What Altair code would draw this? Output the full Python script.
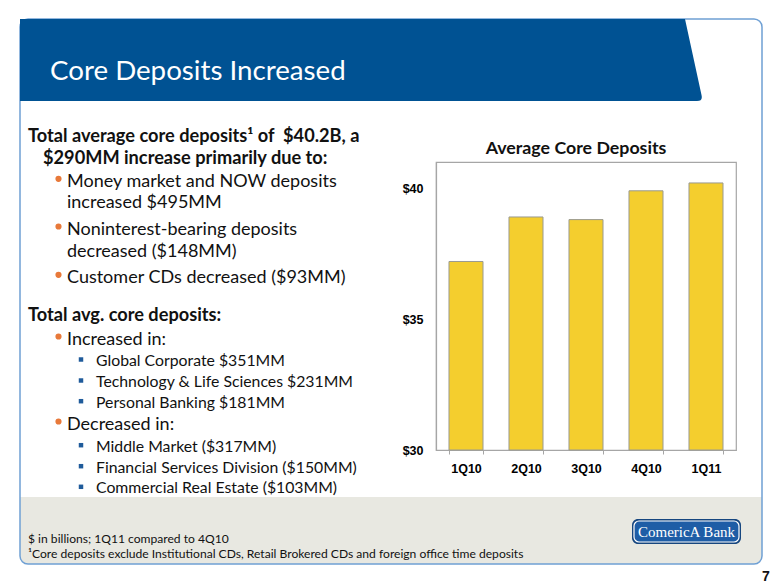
import altair as alt
import pandas as pd

# ---------------- data ----------------
quarters = ["1Q10", "2Q10", "3Q10", "4Q10", "1Q11"]
deposits = [37.2, 38.9, 38.8, 39.9, 40.2]
y_ticks = [30, 35, 40]

slide_title = "Core Deposits Increased"
chart_title = "Average Core Deposits"
intro_lines = ["Total average core deposits\u00b9 of\u00a0 $40.2B, a",
               "$290MM increase primarily due to:"]
driver_lines = ["Money market and NOW deposits", "increased $495MM",
                "Noninterest-bearing deposits", "decreased ($148MM)",
                "Customer CDs decreased ($93MM)"]
section2 = "Total avg. core deposits:"
inc_head = "Increased in:"
inc_lines = ["Global Corporate $351MM", "Technology & Life Sciences $231MM",
             "Personal Banking $181MM"]
dec_head = "Decreased in:"
dec_lines = ["Middle Market ($317MM)", "Financial Services Division ($150MM)",
             "Commercial Real Estate ($103MM)"]
footnotes = ["$ in billions; 1Q11 compared to 4Q10",
             "\u00b9Core deposits exclude Institutional CDs, Retail Brokered CDs and foreign office time deposits"]
logo_text = "ComericA Bank"
page_no = "7"

# ---------------- layout ----------------
OX, OY = 436, 162          # plot-area origin on the page
W, H = 300, 288
BLUE = "#005293"
ORANGE = "#E8793A"
SQ = "#1F5B9B"
TXT = "#111111"
FONT = "Lato"
AXFONT = "Liberation Sans"

one = alt.Data(values=[{"k": 0}])


def txt(s, X, Y, size, bold=False, color=TXT, font=FONT, align="left"):
    return alt.Chart(one).mark_text(
        text=s, align=align, baseline="alphabetic", fontSize=size,
        fontWeight="bold" if bold else "normal", color=color, font=font
    ).encode(x=alt.value(X - OX), y=alt.value(Y - OY))


def rect(X1, Y1, X2, Y2, **kw):
    return alt.Chart(one).mark_rect(**kw).encode(
        x=alt.value(X1 - OX), x2=alt.value(X2 - OX),
        y=alt.value(Y1 - OY), y2=alt.value(Y2 - OY))


def dot(X, Y, shape, size, color):
    return alt.Chart(one).mark_point(shape=shape, size=size, filled=True,
                                     opacity=1, color=color, strokeWidth=0).encode(
        x=alt.value(X - OX), y=alt.value(Y - OY))


layers = []
# footer band
layers.append(rect(20, 497, 762, 564, fill="#E8E8E1",
                   cornerRadiusBottomLeft=8, cornerRadiusBottomRight=8))
# outer frame
layers.append(rect(20, 19, 762, 564, fill="transparent", stroke="#6FA0D4",
                   strokeWidth=1.5, cornerRadius=8))
# title banner (custom path, size=4 -> 1 unit == 1 px)
banner_path = "M0,0 L665,0 L681.5,76 Q683,82 677,82 L0,82 Z"
layers.append(alt.Chart(one).mark_point(shape=banner_path, size=4, filled=True,
                                        opacity=1, color=BLUE, strokeWidth=0).encode(
    x=alt.value(20 - OX), y=alt.value(19 - OY)))
layers.append(txt(slide_title, 50, 80, 27.7, color="white"))

# left text block
HEAD = 18.2
BODY = 18
SUB = 15.8
layers.append(txt(intro_lines[0], 28, 142, HEAD, bold=True))
layers.append(txt(intro_lines[1], 43, 163.5, HEAD, bold=True))
drv_y = [187.3, 208.3, 235, 256.7, 283.3]
drv_bullet = [True, False, True, False, True]
for s, yy, b in zip(driver_lines, drv_y, drv_bullet):
    layers.append(txt(s, 67, yy, BODY))
    if b:
        layers.append(dot(58.5, yy - 8.5, "circle", 38, ORANGE))
layers.append(txt(section2, 28, 321, HEAD, bold=True))
layers.append(txt(inc_head, 67, 345, BODY))
layers.append(dot(58.5, 345 - 8.5, "circle", 38, ORANGE))
for s, yy in zip(inc_lines, [366, 387, 407.7]):
    layers.append(txt(s, 96, yy, SUB))
    layers.append(dot(81, yy - 6.5, "square", 20, SQ))
layers.append(txt(dec_head, 67, 430, BODY))
layers.append(dot(58.5, 430 - 8.5, "circle", 38, ORANGE))
for s, yy in zip(dec_lines, [451.7, 472.7, 493.3]):
    layers.append(txt(s, 96, yy, SUB))
    layers.append(dot(81, yy - 6.5, "square", 20, SQ))

# footer text
layers.append(txt(footnotes[0], 28, 543, 12.1))
layers.append(txt(footnotes[1], 28, 558, 12.1))

# logo
layers.append(rect(632, 519, 741, 544, fill="#16467F", cornerRadius=6))
layers.append(rect(634, 521, 739, 542, fill="#1E5DA6", stroke="white",
                   strokeWidth=1.2, cornerRadius=5))
layers.append(txt(logo_text, 686.5, 536.5, 15, color="white",
                  font="Liberation Serif", align="center"))

# page number
layers.append(txt(page_no, 766, 581, 14, bold=True, font=AXFONT,
                  align="center"))

# chart title
layers.append(txt(chart_title, 576, 154, 17.8, bold=True, align="center"))

# ---------------- bars ----------------
df = pd.DataFrame({"quarter": quarters, "value": deposits})
bars = alt.Chart(df).mark_bar(color="#F4CE2E", stroke="#9A9A90",
                              strokeWidth=1).encode(
    x=alt.X("quarter:N", sort=quarters, title=None,
            scale=alt.Scale(paddingInner=0.433, paddingOuter=0.2165),
            axis=alt.Axis(labelAngle=0, tickBand="extent", tickSize=4,
                          labelPadding=8, labelFont=AXFONT,
                          labelFontWeight="bold", labelFontSize=12.5,
                          labelColor="#000000")),
    y=alt.Y("value:Q", title=None,
            scale=alt.Scale(domain=[30, 41], nice=False, zero=False),
            axis=alt.Axis(values=y_ticks, ticks=False, labelPadding=13,
                          labelExpr="'$' + datum.value", grid=False,
                          labelFont=AXFONT, labelFontWeight="bold",
                          labelFontSize=12.5, labelColor="#000000")),
    y2=alt.datum(30),
)
layers.append(bars)

chart = alt.layer(*layers).properties(
    width=W, height=H,
    padding={"left": OX, "top": OY, "right": 780 - OX - W, "bottom": 585 - OY - H},
    autosize=alt.AutoSizeParams(type="none"),
    background="white",
).configure_view(stroke="#A6A6A6", strokeWidth=1.2).configure_axis(
    domainColor="#A6A6A6", tickColor="#A6A6A6", domainWidth=1.2, grid=False,
)

chart.save("out.html", embed_options={"renderer": "svg", "actions": False})
